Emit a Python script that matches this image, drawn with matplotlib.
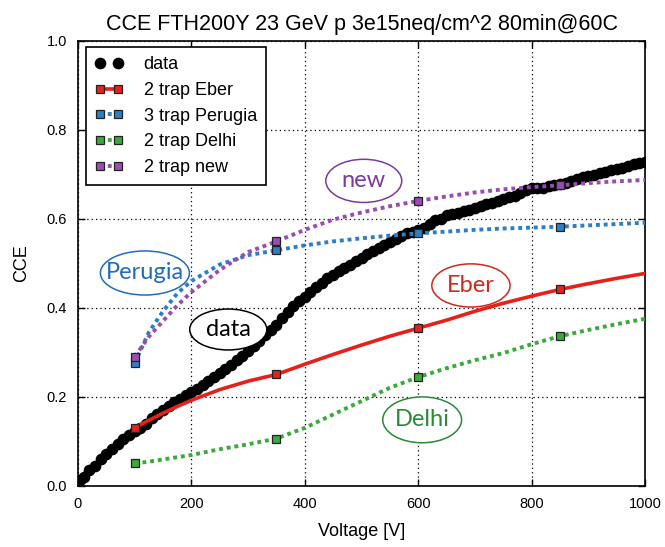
"""
CCE vs bias voltage for FTH200Y, 23 GeV p, 3e15 neq/cm^2, 80min@60C.
Measured data compared with four trap models.
"""

import numpy as np
import matplotlib
matplotlib.use("Agg")
import matplotlib.pyplot as plt
from matplotlib.patches import Ellipse

# ------------------------------------------------------------
# DATA
# ------------------------------------------------------------

# measured points
data_v = [3] + list(range(10, 1001, 10))
data_cce = [
    0.012,
    0.020, 0.035, 0.045, 0.060, 0.072, 0.083, 0.093, 0.104, 0.115, 0.122,
    0.130, 0.138, 0.153, 0.162, 0.170, 0.180, 0.187, 0.195, 0.203, 0.210,
    0.218, 0.226, 0.235, 0.244, 0.253, 0.263, 0.272, 0.282, 0.292, 0.302,
    0.313, 0.326, 0.338, 0.350, 0.362, 0.377, 0.390, 0.403, 0.415, 0.425,
    0.436, 0.446, 0.455, 0.466, 0.474, 0.482, 0.490, 0.496, 0.504, 0.512,
    0.520, 0.527, 0.535, 0.541, 0.548, 0.555, 0.561, 0.567, 0.570, 0.574,
    0.580, 0.588, 0.596, 0.600, 0.608, 0.610, 0.612, 0.617, 0.620, 0.624,
    0.628, 0.632, 0.636, 0.640, 0.645, 0.648, 0.652, 0.658, 0.664, 0.668,
    0.668, 0.670, 0.673, 0.675, 0.677, 0.680, 0.685, 0.690, 0.693, 0.695,
    0.698, 0.702, 0.706, 0.710, 0.712, 0.715, 0.718, 0.722, 0.726, 0.728,
]

# model curves
model_v = [100, 125, 150, 175, 200, 250, 300, 350, 400, 450, 500,
           550, 600, 650, 700, 750, 800, 850, 900, 950, 1000]
eber_cce = [0.130, 0.147, 0.163, 0.178, 0.192, 0.216, 0.235, 0.250, 0.273,
            0.295, 0.316, 0.336, 0.354, 0.372, 0.392, 0.410, 0.426, 0.441,
            0.454, 0.466, 0.477]
perugia_cce = [0.275, 0.345, 0.392, 0.432, 0.460, 0.497, 0.518, 0.529, 0.540,
               0.549, 0.556, 0.562, 0.567, 0.571, 0.575, 0.578, 0.580, 0.582,
               0.585, 0.588, 0.591]
delhi_cce = [0.050, 0.054, 0.059, 0.064, 0.069, 0.082, 0.093, 0.106, 0.130,
             0.160, 0.190, 0.220, 0.244, 0.264, 0.282, 0.298, 0.318, 0.336,
             0.350, 0.363, 0.375]
new_cce = [0.290, 0.335, 0.370, 0.405, 0.435, 0.485, 0.525, 0.549, 0.575,
           0.598, 0.614, 0.628, 0.640, 0.650, 0.659, 0.666, 0.671, 0.675,
           0.680, 0.684, 0.687]

# voltages where the model markers sit
marker_v = [100, 350, 600, 850]

models = [
    ("2 trap Eber", eber_cce, "#e8201a", "-"),
    ("3 trap Perugia", perugia_cce, "#2c7fc4", (0, (1, 1))),
    ("2 trap Delhi", delhi_cce, "#3aab3a", (0, (1, 1))),
    ("2 trap new", new_cce, "#9a4cb3", (0, (1, 1))),
]

# label bubbles: text, centre V, centre CCE, width V, height CCE, colour
bubbles = [
    ("new", 504, 0.685, 134, 0.097, "#7a3c9c"),
    ("Perugia", 118, 0.478, 157, 0.099, "#1f6cc0"),
    ("data", 265, 0.351, 136, 0.092, "black"),
    ("Eber", 693, 0.450, 138, 0.097, "#d0281c"),
    ("Delhi", 607, 0.148, 139, 0.103, "#2a8a36"),
]

# ------------------------------------------------------------
# PLOT
# ------------------------------------------------------------

plt.rcParams["font.family"] = ["Liberation Sans", "DejaVu Sans"]

fig = plt.figure(figsize=(6.65, 5.47), dpi=100)
ax = fig.add_axes([78 / 665, 1 - 485.7 / 547, 567 / 665, 445 / 547])

ax.plot(data_v, data_cce, linestyle="none", marker="o", markersize=7.4,
        color="black", label="data", zorder=3)

mark_idx = [model_v.index(v) for v in marker_v]
for name, cce, col, ls in models:
    ax.plot(model_v, cce, linestyle=ls, linewidth=2.6 if ls == "-" else 2.8,
            color=col, marker="s", markersize=5.5, markevery=mark_idx,
            markerfacecolor=col, markeredgecolor="#222222",
            markeredgewidth=0.9, label=name, zorder=4)

for txt, x, y, w, h, col in bubbles:
    ax.add_patch(Ellipse((x, y), w, h, facecolor="white", edgecolor=col,
                         linewidth=1.1, zorder=5))
    ax.text(x, y, txt, color=col, fontsize=17, family=["Lato", "DejaVu Sans"],
            ha="center", va="center", zorder=6)

ax.set_xlim(0, 1000)
ax.set_ylim(0, 1.0)
ax.set_xticks([0, 200, 400, 600, 800, 1000])
ax.set_yticks([0.0, 0.2, 0.4, 0.6, 0.8, 1.0])
ax.set_yticklabels(["0.0", "0.2", "0.4", "0.6", "0.8", "1.0"])
ax.tick_params(direction="in", length=5, width=1, top=True, right=True,
               labelsize=10.5, pad=8)
ax.grid(True, color="black", linestyle=(0, (1, 2.5)), linewidth=0.9)
for s in ax.spines.values():
    s.set_linewidth(1.2)

ax.set_title("CCE FTH200Y 23 GeV p 3e15neq/cm^2 80min@60C",
             fontsize=15.5, pad=8)
ax.set_xlabel("Voltage [V]", fontsize=13, labelpad=9)
ax.set_ylabel("CCE", fontsize=13, labelpad=12)

leg = ax.legend(loc="upper left", bbox_to_anchor=(0.014, 0.985),
                numpoints=2, handlelength=1.6, handletextpad=1.1,
                fontsize=13, fancybox=False, framealpha=1,
                edgecolor="black", borderpad=0.5, labelspacing=0.48,
                borderaxespad=0)
leg.get_frame().set_linewidth(1.2)
leg.set_zorder(7)

fig.savefig("out.png", dpi=100)
plt.close(fig)
